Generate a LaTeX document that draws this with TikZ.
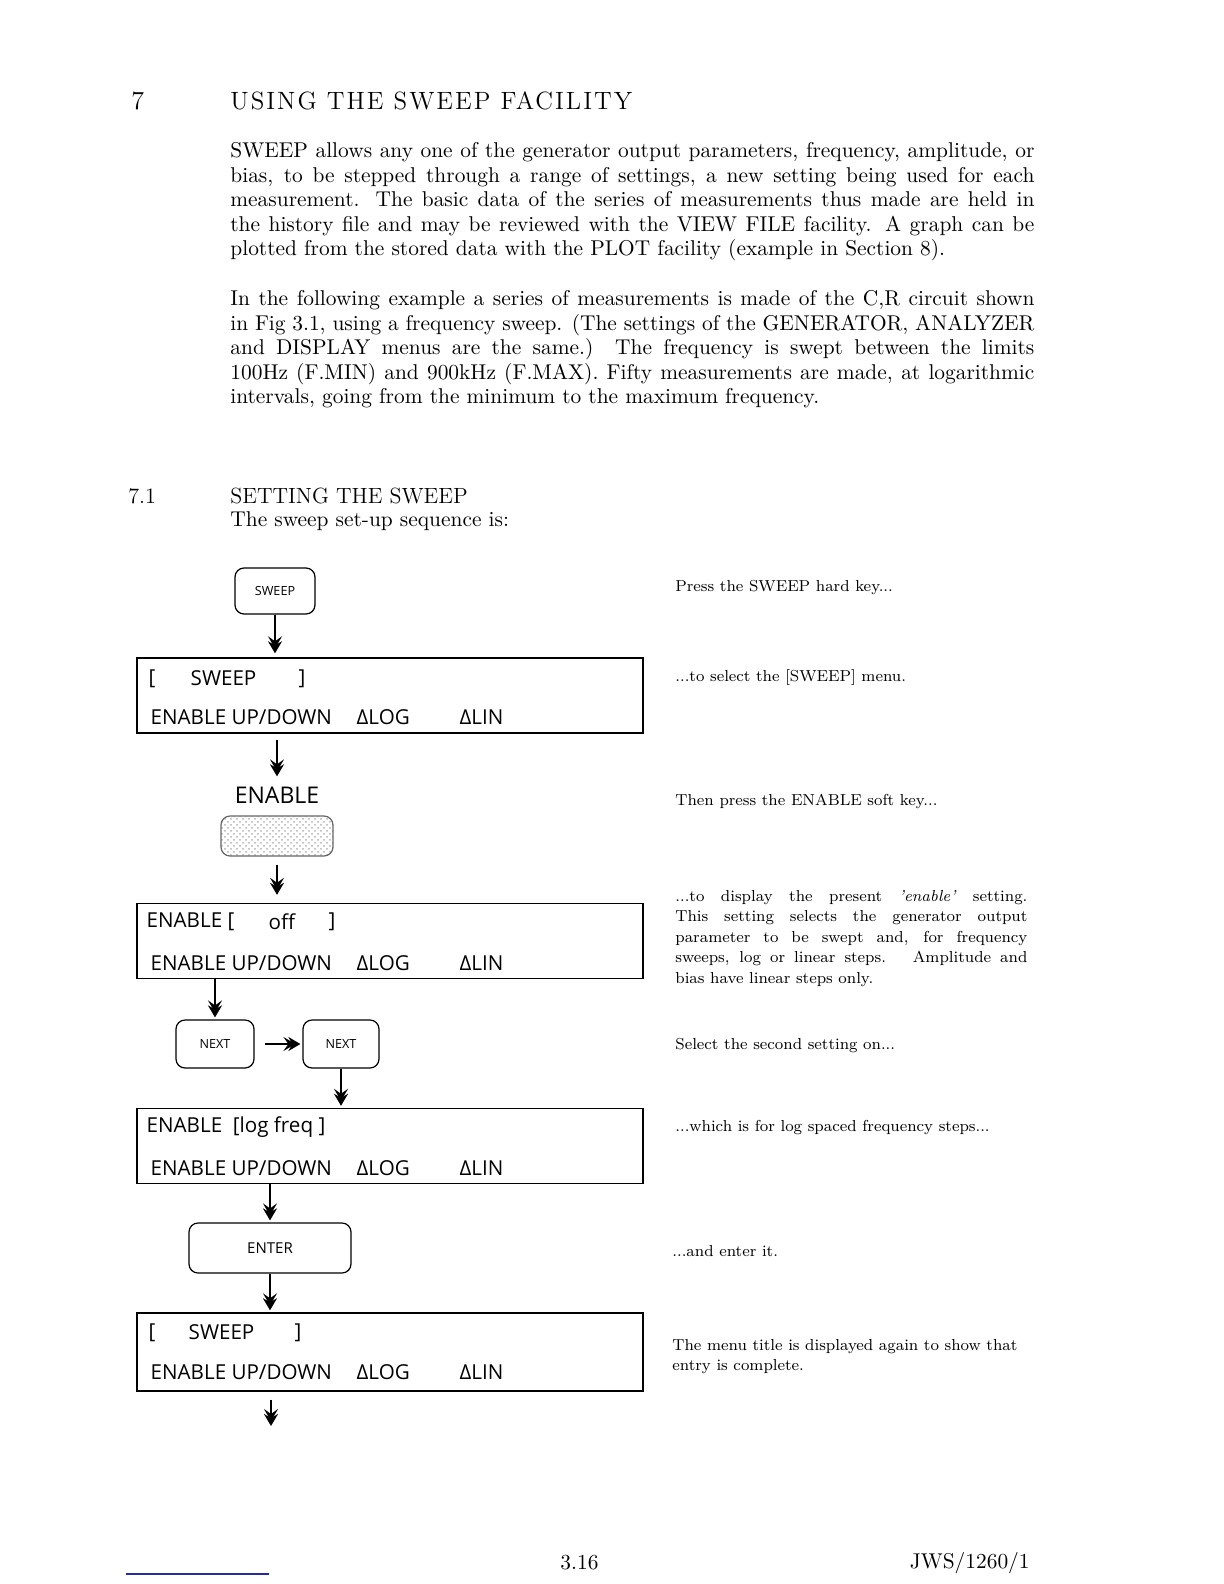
\documentclass[tikz,border=0pt]{standalone}
\usepackage{fontspec}
\usepackage{xcolor}
\newfontfamily\dispfont{Open Sans}
\newfontfamily\headfont{lmroman12-regular}[Extension=.otf, LetterSpace=8]
\usetikzlibrary{arrows.meta,calc,patterns,positioning}
\definecolor{rulerblue}{RGB}{35,45,160}

\begin{document}
\begin{tikzpicture}[x=0.5pt, y=-0.5pt,
    txt/.style={anchor=west, inner sep=0pt, font=\fontsize{10.7}{12.3}\selectfont},
    note/.style={anchor=west, inner sep=0pt, font=\fontsize{7.95}{10.2}\selectfont},
    dtxt/.style={anchor=west, inner sep=0pt, font=\dispfont\fontsize{10.3}{12}\selectfont},
    disp/.style={draw, line width=0.7pt, minimum width=253pt, minimum height=37.5pt, inner sep=0pt},
    key/.style={draw, line width=0.6pt, rounded corners=4.5pt, inner sep=0pt,
        font=\dispfont\fontsize{6.3}{7}\selectfont},
    flow/.style={-{Stealth[length=6pt,width=7pt,inset=2.5pt,sep=-3.5pt]Stealth[length=6pt,width=7pt,inset=2pt]}, line width=1.2pt}]
    \useasboundingbox (0,0) rectangle (1224,1584);

    % Heading and text
    \node[txt, font=\fontsize{13}{15}\selectfont] (secno) at (131,101) {7};
    \node[txt, font=\headfont\fontsize{12.5}{15}\selectfont] (sechead) at (230,101) {USING THE SWEEP FACILITY};
    \node[txt, anchor=north west, align=left] (para1) at (230,142) {%
        \makebox[402pt][s]{SWEEP allows any one of the generator output parameters, frequency, amplitude, or}\\
        \makebox[402pt][s]{bias, to be stepped through a range of settings, a new setting being used for each}\\
        \makebox[402pt][s]{measurement. The basic data of the series of measurements thus made are held in}\\
        \makebox[402pt][s]{the history file and may be reviewed with the VIEW FILE facility. A graph can be}\\
        plotted from the stored data with the PLOT facility (example in Section 8).};
    \node[txt, anchor=north west, align=left] (para2) at (230,290) {%
        \makebox[402pt][s]{In the following example a series of measurements is made of the C,R circuit shown}\\
        \makebox[402pt][s]{in Fig 3.1, using a frequency sweep. (The settings of the GENERATOR, ANALYZER}\\
        \makebox[402pt][s]{and DISPLAY menus are the same.) The frequency is swept between the limits}\\
        \makebox[402pt][s]{100Hz (F.MIN) and 900kHz (F.MAX). Fifty measurements are made, at logarithmic}\\
        intervals, going from the minimum to the maximum frequency.};
    \node[txt, font=\fontsize{11}{13}\selectfont] (subno) at (128,496) {7.1};
    \node[txt, font=\fontsize{11}{13}\selectfont] (subhead) at (230,496) {SETTING THE SWEEP};
    \node[txt] (intro) at (230,521) {The sweep set-up sequence is:};

    % Keys and displays
    \node[key, minimum width=40pt, minimum height=23pt] (ksweep) at (275,591) {SWEEP};
    \node[disp] (d1) at (390,695.5) {};
    \node[inner sep=5pt, font=\dispfont\fontsize{11.5}{13}\selectfont] (lenable) at (277,795) {ENABLE};
    \node[key, draw=black!60, pattern=crosshatch dots, pattern color=black!30,
        minimum width=56pt, minimum height=20pt] (kenable) at (277,836) {};
    \node[disp] (d2) at (390,941) {};
    \node[key, minimum width=39pt, minimum height=24pt] (knext1) at (215,1044) {NEXT};
    \node[key, minimum width=38pt, minimum height=24pt] (knext2) at (341,1044) {NEXT};
    \node[disp] (d3) at (390,1146) {};
    \node[key, minimum width=81pt, minimum height=25pt, font=\dispfont\fontsize{7.5}{9}\selectfont] (kenter) at (270,1248) {ENTER};
    \node[disp, minimum height=39pt] (d4) at (390,1352) {};
    \coordinate (more) at (271,1426);

    % Display lines
    \node[dtxt] (d1a) at ($(d1.north west)+(12,21)$) {[};
    \node[dtxt] (d1b) at ($(d1.north west)+(54,21)$) {SWEEP};
    \node[dtxt] (d1c) at ($(d1.north west)+(162,21)$) {]};
    \node[dtxt] (d2a) at ($(d2.north west)+(10,19)$) {ENABLE [};
    \node[dtxt] (d2b) at ($(d2.north west)+(132,19)$) {off};
    \node[dtxt] (d2c) at ($(d2.north west)+(192,19)$) {]};
    \node[dtxt] (d3a) at ($(d3.north west)+(10,19)$) {ENABLE\ \ [log freq ]};
    \node[dtxt] (d4a) at ($(d4.north west)+(12,20)$) {[};
    \node[dtxt] (d4b) at ($(d4.north west)+(52,20)$) {SWEEP};
    \node[dtxt] (d4c) at ($(d4.north west)+(158,20)$) {]};
    \foreach \d in {d1,d2,d3,d4} {
        \node[dtxt] (\d s1) at ($(\d.north west)+(14,60)$) {ENABLE UP/DOWN};
        \node[dtxt] (\d s2) at ($(\d.north west)+(220,60)$) {ΔLOG};
        \node[dtxt] (\d s3) at ($(\d.north west)+(323,60)$) {ΔLIN};
    }

    % Arrows
    \draw[flow, shorten >=2pt] (ksweep) -- (ksweep |- d1.north);
    \draw[flow, shorten <=3pt] (lenable |- d1.south) -- (lenable);
    \draw[flow, shorten <=4pt, shorten >=4pt] (kenable) -- (kenable |- d2.north);
    \draw[flow, shorten >=1pt] (knext1 |- d2.south) -- (knext1);
    \draw[flow, shorten <=5pt, shorten >=1pt] (knext1) -- (knext2);
    \draw[flow, shorten >=1pt] (knext2) -- (knext2 |- d3.north);
    \draw[flow, shorten >=1pt] (kenter |- d3.south) -- (kenter);
    \draw[flow, shorten >=1pt] (kenter) -- (kenter |- d4.north);
    \draw[flow, shorten <=4pt] (more |- d4.south) -- (more);

    % Notes at the right
    \node[note] (n1) at (675,588) {Press the SWEEP hard key...};
    \node[note] (n2) at (675,678) {...to select the [SWEEP] menu.};
    \node[note] (n3) at (675,801) {Then press the ENABLE soft key...};
    \node[note, anchor=north west, align=left] (n4) at (675,890) {%
        \makebox[176pt][s]{...to display the present \textit{'enable'} setting.}\\
        \makebox[176pt][s]{This setting selects the generator output}\\
        \makebox[176pt][s]{parameter to be swept and, for frequency}\\
        \makebox[176pt][s]{sweeps, log or linear steps. \ Amplitude and}\\
        bias have linear steps only.};
    \node[note] (n5) at (675,1046) {Select the second setting on...};
    \node[note] (n6) at (675,1128) {...which is for log spaced frequency steps...};
    \node[note] (n7) at (672,1251) {...and enter it.};
    \node[note, anchor=north west, align=left] (n8) at (672,1339) {The menu title is displayed again to show that\\ entry is complete.};

    % Footer
    \node[txt] (pageno) at (560,1563) {3.16};
    \node[txt, anchor=east] (docref) at (1030,1563) {JWS/1260/1};
    \draw[rulerblue, line width=0.8pt] (126,1574) -- (269,1574);
\end{tikzpicture}
\end{document}
